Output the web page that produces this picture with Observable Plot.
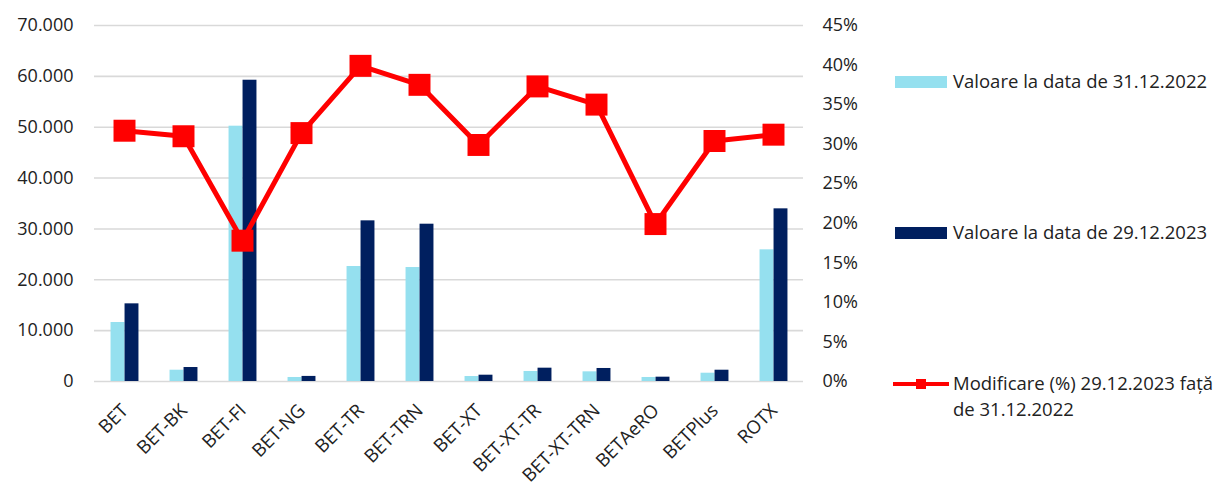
<!DOCTYPE html>
<html><head><meta charset="utf-8">
<script src="https://cdn.jsdelivr.net/npm/d3@7"></script>
<script src="https://cdn.jsdelivr.net/npm/@observablehq/plot@0.6"></script>
<style>
body{margin:0;background:#fff;font-family:"Open Sans",sans-serif;}
#wrap{position:relative;width:1222px;height:483px;overflow:hidden;}
#wrap svg.plot{position:absolute;left:0;top:0;}
.leg{position:absolute;font-size:18.5px;color:#222;line-height:26px;white-space:nowrap;}
.sw{position:absolute;}
</style></head><body><div id="wrap"></div>
<script>
const categories = ["BET","BET-BK","BET-FI","BET-NG","BET-TR","BET-TRN","BET-XT","BET-XT-TR","BET-XT-TRN","BETAeRO","BETPlus","ROTX"];
const values2022 = [11600, 2220, 50200, 790, 22610, 22410, 980, 1970, 1900, 790, 1630, 25890];
const values2023 = [15270, 2750, 59240, 1000, 31590, 30930, 1240, 2620, 2560, 850, 2220, 33950];
const changePct = [31.7, 31.0, 17.8, 31.4, 39.9, 37.5, 29.9, 37.3, 35.0, 19.9, 30.4, 31.2];
const leftTicks = [0, 10000, 20000, 30000, 40000, 50000, 60000, 70000];
const rightTicks = [0, 5, 10, 15, 20, 25, 30, 35, 40, 45];
const seriesNames = ["Valoare la data de 31.12.2022", "Valoare la data de 29.12.2023", "Modificare (%) 29.12.2023 față<br>de 31.12.2022"];
const colors = ["#95e0ef", "#001f5f", "#ff0000"];

const rows = categories.map((c, i) => ({cat: c, v2022: values2022[i], v2023: values2023[i], pct: changePct[i]}));
const W = 1222, H = 483;
const M = {left: 94, right: 419, top: 25, bottom: 102};
const bw = (W - M.left - M.right) / categories.length;
const barW = 14;
const roFmt = d3.formatLocale({decimal: ",", thousands: ".", grouping: [3], currency: ["", ""]}).format(",.0f");
const style = {fontFamily: "'Open Sans', sans-serif", fontSize: "18px", color: "#222", background: "transparent", overflow: "visible"};

const bars = Plot.plot({
  width: W, height: H,
  marginLeft: M.left, marginRight: M.right, marginTop: M.top, marginBottom: M.bottom,
  style,
  x: {domain: categories, padding: 0, label: null},
  y: {domain: [0, 70000], label: null},
  marks: [
    Plot.ruleY(leftTicks, {stroke: "#d9d9d9", strokeWidth: 1.6}),
    Plot.barY(rows, {x: "cat", y: "v2022", fill: colors[0], insetLeft: bw / 2 - barW, insetRight: bw / 2}),
    Plot.barY(rows, {x: "cat", y: "v2023", fill: colors[1], insetLeft: bw / 2, insetRight: bw / 2 - barW}),
    Plot.axisY(leftTicks, {tickSize: 0, tickPadding: 21, tickFormat: roFmt, label: null}),
    Plot.axisX({tickRotate: -45, tickSize: 0, tickPadding: 26, label: null, fontSize: "18.5px"})
  ]
});
const line = Plot.plot({
  width: W, height: H,
  marginLeft: M.left, marginRight: M.right, marginTop: M.top, marginBottom: M.bottom,
  style,
  x: {type: "point", domain: categories, padding: 0.5, axis: null},
  y: {domain: [0, 45], label: null},
  marks: [
    Plot.axisY(rightTicks, {anchor: "right", tickSize: 0, tickPadding: 19, tickFormat: d => d + "%", label: null}),
    Plot.line(rows, {x: "cat", y: "pct", stroke: colors[2], strokeWidth: 5}),
    Plot.dot(rows, {x: "cat", y: "pct", symbol: "square", r: 12.4, fill: colors[2], stroke: "none"})
  ]
});
bars.classList.add("plot"); line.classList.add("plot");
const wrap = document.getElementById("wrap");
wrap.appendChild(bars);
wrap.appendChild(line);

function addSwatch(left, top, w, h, color) {
  const d = document.createElement("div");
  d.className = "sw";
  Object.assign(d.style, {left: left + "px", top: top + "px", width: w + "px", height: h + "px", background: color});
  wrap.appendChild(d);
}
function addText(left, top, html) {
  const d = document.createElement("div");
  d.className = "leg";
  d.style.left = left + "px"; d.style.top = top + "px";
  d.innerHTML = html;
  wrap.appendChild(d);
}
addSwatch(895, 76, 52, 12, colors[0]);
addText(953, 68, seriesNames[0]);
addSwatch(895, 227, 52, 12, colors[1]);
addText(953, 219, seriesNames[1]);
addSwatch(893, 382, 56, 4, colors[2]);
addSwatch(916, 379, 10, 10, colors[2]);
addText(953, 370, seriesNames[2]);
</script>
</body></html>
